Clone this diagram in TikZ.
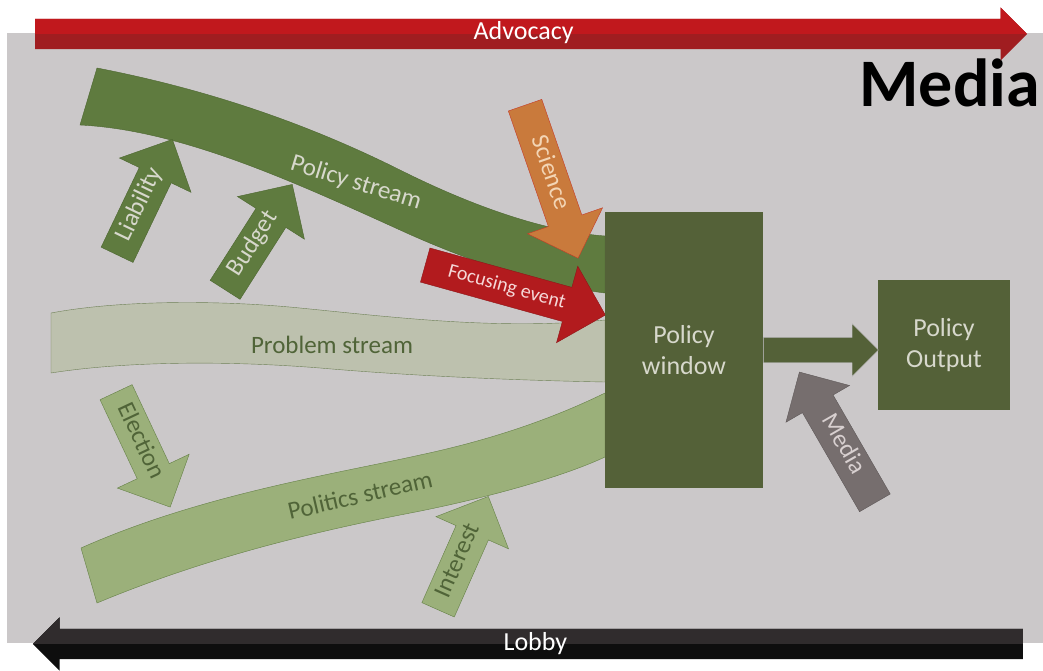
\documentclass[tikz,border=0pt]{standalone}
\usepackage{fontspec}
\setmainfont{Carlito}
\usetikzlibrary{shapes.arrows,positioning}

\definecolor{bggray}{RGB}{203,200,201}
\definecolor{advred}{RGB}{193,24,29}
\definecolor{advdark}{RGB}{160,29,32}
\definecolor{lobbytop}{RGB}{48,44,45}
\definecolor{lobbydark}{RGB}{14,14,14}
\definecolor{polgreen}{RGB}{95,123,63}
\definecolor{polline}{RGB}{76,102,48}
\definecolor{probfill}{RGB}{189,193,174}
\definecolor{probline}{RGB}{110,128,86}
\definecolor{polifill}{RGB}{155,176,122}
\definecolor{poliline}{RGB}{100,128,70}
\definecolor{winfill}{RGB}{84,97,56}
\definecolor{scifill}{RGB}{201,122,60}
\definecolor{sciline}{RGB}{196,58,40}
\definecolor{focred}{RGB}{178,27,30}
\definecolor{mediagray}{RGB}{118,110,110}
\definecolor{lighttext}{RGB}{215,216,204}
\definecolor{darktext}{RGB}{80,100,56}

\tikzset{
  blockarrow/.style={single arrow, single arrow head extend=22pt, anchor=tail,
    inner xsep=4pt, inner ysep=7.5pt, text height=15pt, text depth=5pt,
    font=\fontsize{25}{25}\selectfont},
  bararrow/.style={single arrow, single arrow head extend=11.5pt, anchor=tail,
    inner xsep=0pt, inner ysep=3pt, text height=18pt, text depth=6pt,
    text=white, font=\fontsize{26}{26}\selectfont},
  streamlabel/.style={font=\fontsize{25}{25}\selectfont, inner sep=0pt},
  box/.style={fill=winfill, text=lighttext, align=center, inner sep=0pt,
    font=\fontsize{26}{31}\selectfont}
}

\begin{document}
\begin{tikzpicture}[x=1pt, y=-1pt]
  \useasboundingbox (0,0) rectangle (1043,671);

  % fond
  \fill[bggray] (7,33) rectangle (1043,643);

  % courants
  \draw[polline, fill=polgreen] (97,68) .. controls (200,88) and (300,120) .. (400,170)
    .. controls (480,210) and (550,232) .. (605,236) -- (605,293)
    .. controls (540,285) and (470,262) .. (400,230)
    .. controls (290,180) and (180,130) .. (80,125) -- cycle;
  \draw[probline, fill=probfill] (51,313) .. controls (120,300) and (220,300) .. (300,308)
    .. controls (400,318) and (500,330) .. (605,320) -- (605,382)
    .. controls (500,380) and (400,375) .. (320,368)
    .. controls (220,360) and (120,362) .. (51,373) -- cycle;
  \draw[poliline, fill=polifill] (81,548) .. controls (200,495) and (330,475) .. (420,455)
    .. controls (500,438) and (560,415) .. (605,393) -- (605,457)
    .. controls (560,478) and (480,500) .. (400,515)
    .. controls (300,535) and (200,560) .. (97,603) -- cycle;

  \node (policy) [streamlabel, text=lighttext, rotate=-17] at (356,183) {Policy stream};
  \node (problem) [streamlabel, text=darktext] at (332,345) {Problem stream};
  \node (politics) [streamlabel, text=darktext, rotate=13] at (360,495) {Politics stream};

  % facteurs
  \node (liability) [blockarrow, fill=polgreen, draw=polline, text=lighttext,
    rotate=64.4, minimum height=128pt] at (117,255) {Liability};
  \node (budget) [blockarrow, fill=polgreen, draw=polline, text=lighttext,
    rotate=57.5, minimum height=125pt] at (225,290) {Budget};
  \node (science) [blockarrow, fill=scifill, draw=sciline, text={rgb,255:red,243;green,213;blue,181},
    rotate=-70.9, minimum height=162pt] at (525,105) {Science};
  \node (focusing) [blockarrow, fill=focred, draw=focred!80!black, text={rgb,255:red,245;green,215;blue,215},
    rotate=-15.5, minimum height=187pt,
    font=\fontsize{20}{20}\selectfont] at (425,265) {Focusing event};
  \node (election) [blockarrow, fill=polifill, draw=poliline, text=darktext,
    rotate=-64.8, minimum height=127pt] at (116,392) {Election};
  \node (interest) [blockarrow, fill=polifill, draw=poliline, text=darktext,
    rotate=66.1, minimum height=124pt] at (438,610) {Interest};

  % fenetre et sortie
  \node (window) [box, minimum width=158pt, minimum height=276pt] at (684,350) {Policy\\window};
  \node (output) [box, minimum width=132pt, minimum height=130pt] at (944,345) {Policy\\Output};
  \node (link) [single arrow, single arrow head extend=13.5pt, anchor=tail, fill=winfill,
    draw=gray!60, inner xsep=0pt, inner ysep=12.5pt, text height=0pt, text depth=0pt,
    minimum height=115pt] at (window.east) {};
  \node (media) [blockarrow, single arrow head extend=19pt, fill=mediagray,
    draw=mediagray!80!black, text={rgb,255:red,216;green,208;blue,208},
    shape border rotate=180, rotate=-60, minimum height=151pt] at (875,503) {Media};

  \node (mediatitle) [anchor=base east, inner sep=0pt,
    font=\fontsize{68}{68}\selectfont\bfseries] at (1040,107) {Media};

  % plaidoyer et lobby
  \node (advocacy) [bararrow, fill=advdark, minimum height=992pt,
    path picture={\fill[advred] (path picture bounding box.north west)
      rectangle (path picture bounding box.east);}] at (35,34) {Advocacy};
  \node (lobby) [bararrow, fill=lobbydark, minimum height=990pt, shape border rotate=180,
    path picture={\fill[lobbytop] (path picture bounding box.north west)
      rectangle (path picture bounding box.east);}] at (1023,644) {Lobby};
\end{tikzpicture}
\end{document}
